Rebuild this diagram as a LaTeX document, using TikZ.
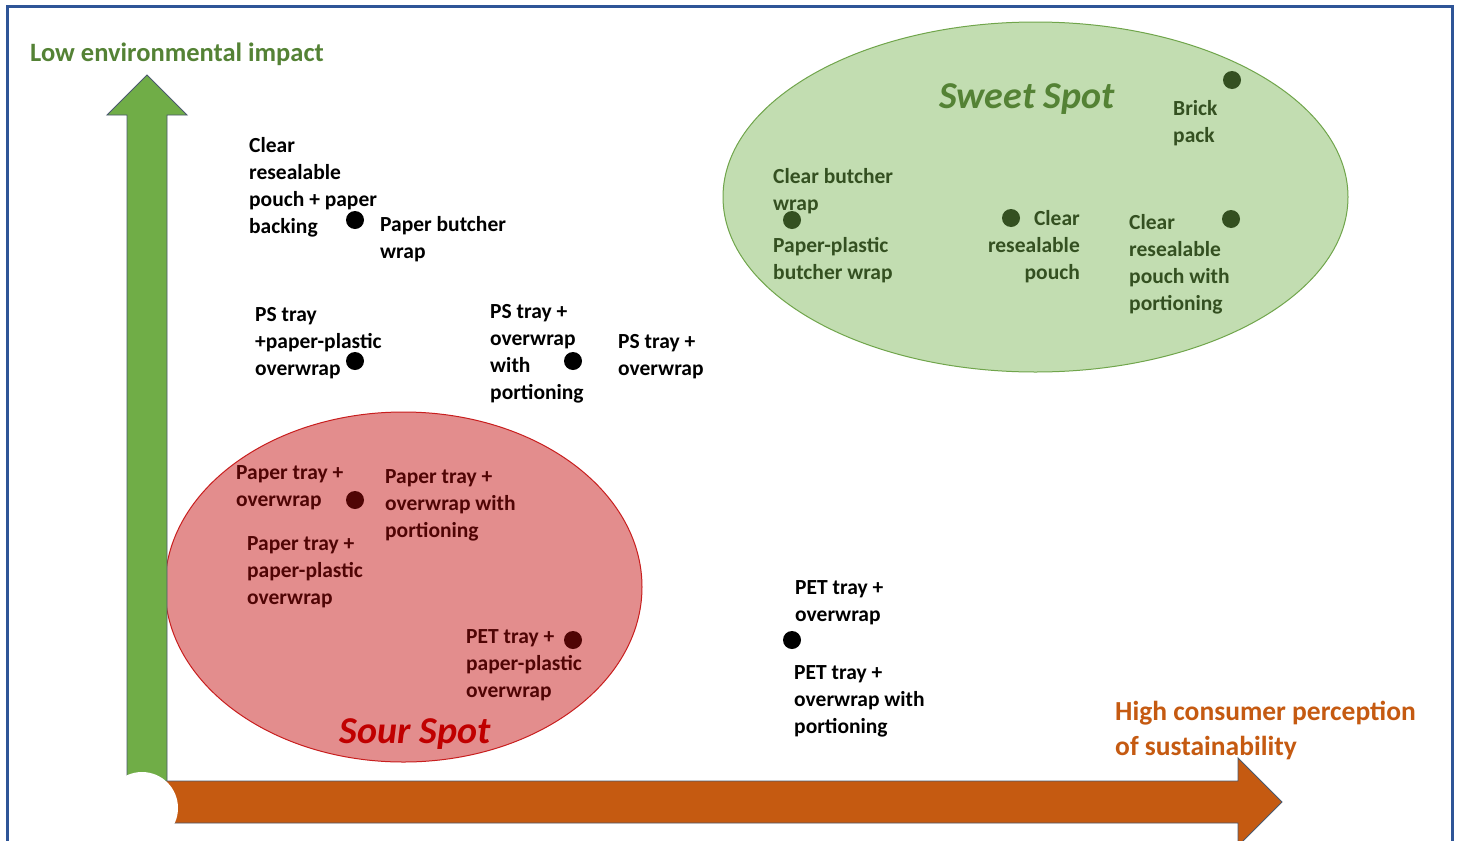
\documentclass[tikz,border=0pt]{standalone}
\usepackage{fontspec}
\setmainfont{Carlito}
\usetikzlibrary{shapes.geometric}
\definecolor{framec}{RGB}{47,85,151}
\definecolor{garrow}{RGB}{112,173,71}
\definecolor{oarrow}{RGB}{197,90,17}
\definecolor{outl}{RGB}{74,88,110}
\definecolor{glabel}{RGB}{84,130,53}
\definecolor{sweetfill}{RGB}{194,221,177}
\definecolor{sweetline}{RGB}{112,165,75}
\definecolor{sweettext}{RGB}{52,80,33}
\definecolor{sourfill}{RGB}{227,141,141}
\definecolor{sourline}{RGB}{200,30,30}
\definecolor{sourtext}{RGB}{80,5,5}
\definecolor{sourtitle}{RGB}{192,0,0}
\begin{document}
\begin{tikzpicture}[x=1pt,y=-1pt,
  lbl/.style={inner sep=0pt, align=left, anchor=west, font=\bfseries\fontsize{21.5}{27}\selectfont},
  lblr/.style={lbl, align=right, anchor=east},
  axlbl/.style={inner sep=0pt, align=left, anchor=west, font=\bfseries\fontsize{27.5}{35}\selectfont},
  spot/.style={inner sep=0pt, anchor=center, font=\bfseries\itshape\fontsize{38}{44}\selectfont},
  dot/.style={circle, fill, inner sep=0pt, minimum size=18pt},
  shape outline/.style={draw=outl, line width=0.9pt}]
\useasboundingbox (0,0) rectangle (1460,841);
\clip (0,0) rectangle (1460,841);
\fill[white] (0,0) rectangle (1460,841);
% frame
\draw[framec, line width=3pt] (7,900) -- (7,6.5) -- (1452,6.5) -- (1452,900);
% ellipses
\draw[fill=sweetfill, draw=sweetline, line width=1pt] (1035.5,197) ellipse [x radius=312.5pt, y radius=175pt];
\draw[fill=sourfill, draw=sourline, line width=1pt] (403.5,587) ellipse [x radius=238.5pt, y radius=175pt];
% arrows
\draw[fill=garrow, shape outline] (127,800) -- (127,115) -- (107,115) -- (147,75) -- (187,115) -- (167,115) -- (167,800) -- cycle;
\draw[fill=oarrow, shape outline] (145,781) -- (1238,781) -- (1238,758) -- (1282,802) -- (1238,846) -- (1238,823) -- (145,823) -- cycle;
\fill[white] (142,808) circle [radius=36pt];
% axis labels
\node[axlbl, text=glabel, font=\bfseries\fontsize{26.5}{35}\selectfont] (ylab) at (30,54) {Low environmental impact};
\node[axlbl, text=oarrow] (xlab) at (1115,730) {High consumer perception\\of sustainability};
% spot titles
\node[spot, text=glabel] (sweet) at (1027,99) {Sweet Spot};
\node[spot, text=sourtitle] (sour) at (415,734) {Sour Spot};
% outside points
\node[dot, black] (d1) at (355,220) {};
\node[dot, black] (d2) at (355,361) {};
\node[dot, black] (d3) at (573,361) {};
\node[dot, black] (d4) at (792,640) {};
\node[lbl] (t1) at (249,187) {Clear\\resealable\\pouch + paper\\backing};
\node[lbl] (t2) at (380,239.5) {Paper butcher\\wrap};
\node[lbl] (t3) at (255,343) {PS tray\\+paper-plastic\\overwrap};
\node[lbl] (t4) at (490,354) {PS tray +\\overwrap\\with\\portioning};
\node[lbl] (t5) at (618,357) {PS tray +\\overwrap};
\node[lbl] (t6) at (795,602.5) {PET tray +\\overwrap};
\node[lbl] (t7) at (794,701.5) {PET tray +\\overwrap with\\portioning};
% sweet spot points
\node[dot, sweettext] (g1) at (1232,80) {};
\node[dot, sweettext] (g2) at (792,220) {};
\node[dot, sweettext] (g3) at (1011,218) {};
\node[dot, sweettext] (g4) at (1231,219) {};
\node[lbl, text=sweettext] (s1) at (1173,123) {Brick\\pack};
\node[lbl, text=sweettext] (s2) at (773,191.5) {Clear butcher\\wrap};
\node[lbl, text=sweettext] (s3) at (773,260) {Paper-plastic\\butcher wrap};
\node[lblr, text=sweettext] (s4) at (1080,247) {Clear\\resealable\\pouch};
\node[lbl, text=sweettext] (s5) at (1129,264) {Clear\\resealable\\pouch with\\portioning};
% sour spot points
\node[dot, sourtext] (r1) at (355,500) {};
\node[dot, sourtext] (r2) at (573,640) {};
\node[lbl, text=sourtext] (u1) at (236,487.5) {Paper tray +\\overwrap};
\node[lbl, text=sourtext] (u2) at (385,505) {Paper tray +\\overwrap with\\portioning};
\node[lbl, text=sourtext] (u3) at (247,572) {Paper tray +\\paper-plastic\\overwrap};
\node[lbl, text=sourtext] (u4) at (466,665.5) {PET tray +\\paper-plastic\\overwrap};
\end{tikzpicture}
\end{document}
